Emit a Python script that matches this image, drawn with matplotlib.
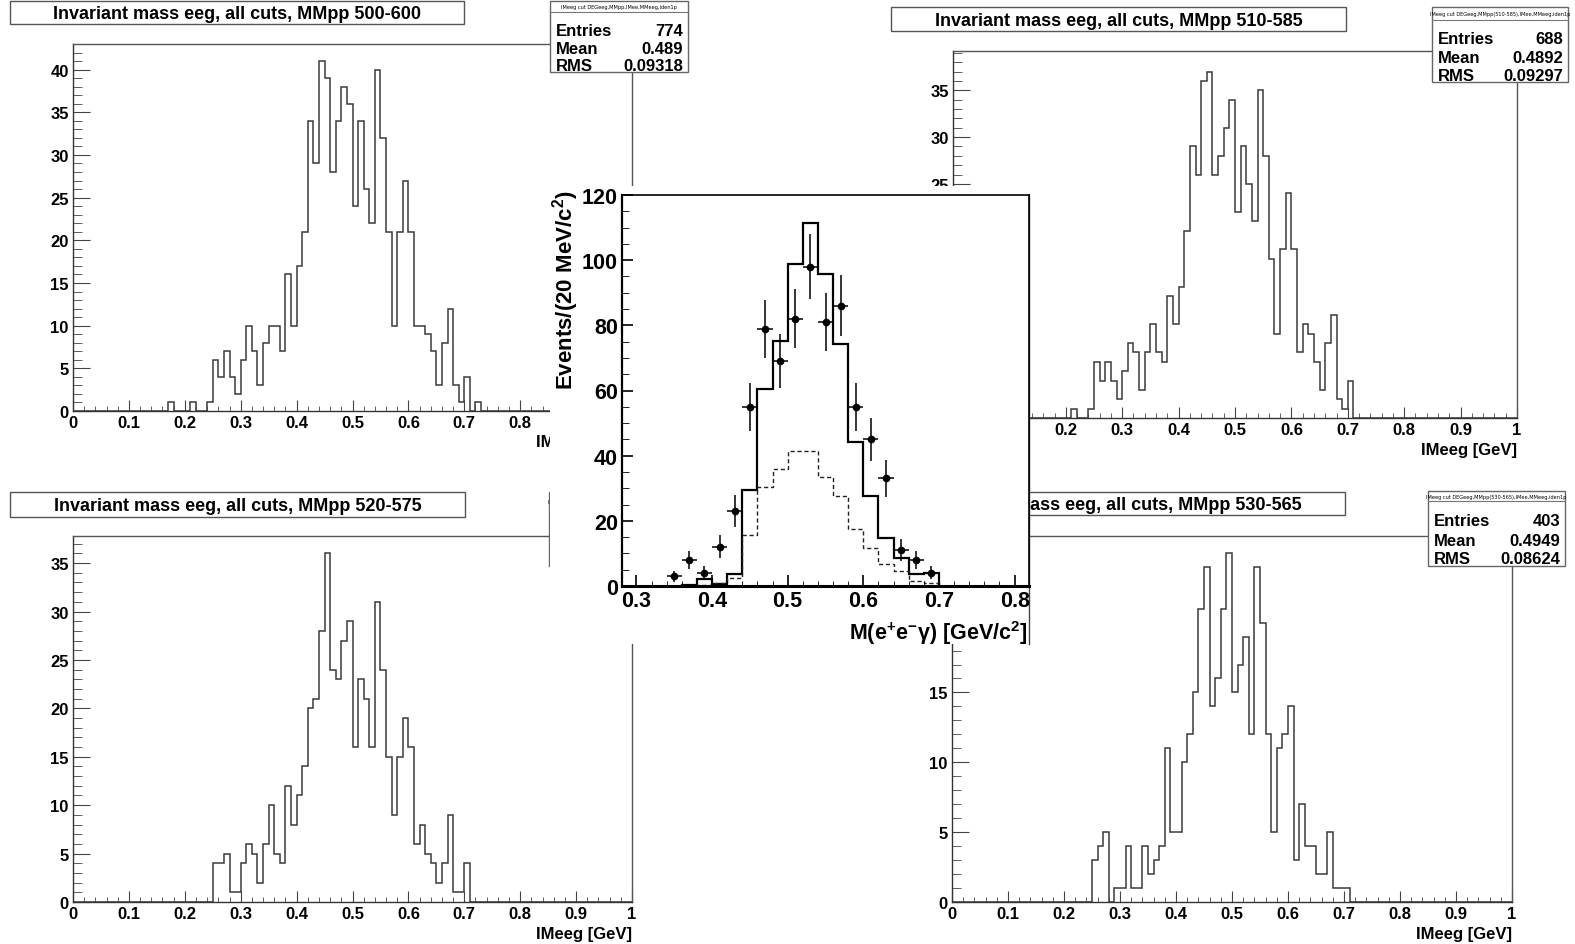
import numpy as np
import matplotlib.pyplot as plt
from matplotlib.patches import Rectangle
from matplotlib.ticker import MultipleLocator

plt.rcParams['font.family'] = ['Liberation Sans', 'DejaVu Sans']
plt.rcParams['font.weight'] = 'bold'
plt.rcParams['mathtext.fontset'] = 'custom'
plt.rcParams['mathtext.rm'] = 'Liberation Sans:bold'
plt.rcParams['mathtext.bf'] = 'Liberation Sans:bold'
plt.rcParams['mathtext.it'] = 'Liberation Sans:bold'
plt.rcParams['mathtext.default'] = 'rm'

W, H = 1575, 945

# IMeeg histograms, 100 bins of 10 MeV from 0 to 1 GeV; counts listed from a first bin on
mass_edges = np.linspace(0, 1, 101)

first_500_600 = 17
counts_500_600 = [1, 0, 0, 0, 1, 0, 0, 1, 6, 4, 7, 4, 2, 6, 10, 7, 3, 8, 10, 10, 7, 16, 10,
                  17, 21, 34, 29, 41, 39, 28, 34, 38, 36, 24, 34, 26, 22, 40, 32, 21, 10,
                  21, 27, 21, 10, 10, 9, 7, 3, 8, 12, 3, 1, 4, 0, 1]
first_510_585 = 21
counts_510_585 = [1, 0, 0, 1, 6, 4, 6, 4, 2, 5, 8, 7, 3, 7, 10, 7, 6, 13, 10, 14, 20, 29,
                  26, 36, 37, 26, 28, 31, 34, 22, 29, 25, 21, 35, 28, 17, 9, 18, 24, 18,
                  7, 10, 9, 6, 3, 8, 11, 2, 1, 4]
first_520_575 = 25
counts_520_575 = [4, 4, 5, 1, 1, 4, 6, 5, 2, 6, 10, 5, 4, 12, 8, 11, 14, 20, 21, 28, 36,
                  24, 23, 27, 29, 16, 23, 21, 16, 31, 24, 15, 9, 15, 19, 16, 6, 8, 5, 4,
                  2, 4, 9, 1, 1, 4]
first_530_565 = 25
counts_530_565 = [3, 4, 5, 0, 1, 1, 4, 1, 1, 4, 2, 3, 4, 11, 5, 5, 10, 12, 15, 21, 24,
                  14, 16, 21, 25, 15, 17, 19, 12, 24, 20, 12, 5, 11, 12, 14, 3, 7, 4, 4,
                  2, 2, 5, 1, 1, 1]

titles = ['Invariant mass eeg, all cuts, MMpp 500-600',
          'Invariant mass eeg, all cuts, MMpp 510-585',
          'Invariant mass eeg, all cuts, MMpp 520-575',
          'Invariant mass eeg, all cuts, MMpp 530-565']
stat_headers = ['IMeeg cut DEGeeg,MMpp,IMee,MMeeg,iden1p',
                'IMeeg cut DEGeeg,MMpp(510-585),IMee,MMeeg,iden1p',
                'IMeeg cut DEGeeg,MMpp(520-575),IMee,MMeeg,iden1p',
                'IMeeg cut DEGeeg,MMpp(530-565),IMee,MMeeg,iden1p']
stat_entries = ['774', '688', None, '403']
stat_mean = ['0.489', '0.4892', None, '0.4949']
stat_rms = ['0.09318', '0.09297', None, '0.08624']

# central plot: 20 MeV bins
center_edges = np.linspace(0.36, 0.70, 18)
mc_total = [0.4, 2.2, 0.7, 3.7, 29.6, 60.6, 75.1, 98.7, 111.4, 95.8, 74.3, 44.1, 27.5,
            14.8, 8.6, 3.7, 4.1]
mc_part = [0.3, 0.3, 0.8, 2.6, 15.7, 30.5, 36.0, 41.3, 41.3, 33.3, 27.7, 17.4, 11.6,
           6.6, 4.6, 1.4, 1.0]
data_mass = [0.35, 0.37, 0.39, 0.41, 0.43, 0.45, 0.47, 0.49, 0.51, 0.53, 0.55, 0.57,
             0.59, 0.61, 0.63, 0.65, 0.67, 0.69]
data_counts = [3, 8, 4, 12, 23, 55, 79, 69, 82, 98, 81, 86, 55, 45, 33, 11, 8, 4]
data_err = [1.7, 2.8, 2.0, 3.5, 4.8, 7.4, 8.9, 8.3, 9.1, 9.9, 9.0, 9.3, 7.4, 6.7, 5.7,
            3.3, 2.8, 2.0]


def place(x0, y0, x1, y1):
    return [x0 / W, 1 - y1 / H, (x1 - x0) / W, (y1 - y0) / H]


def pt(px):
    return px * 72 / 100


fig = plt.figure(figsize=(15.75, 9.45), dpi=100)

# panel layout in pixels: frame, y max, title box, stat box (x0, y0, x1, y1, separator)
frames = [(73, 45, 632, 412), (953, 52, 1517, 419), (73, 537, 632, 903), (952, 537, 1512, 903)]
ymaxes = [43.0, 39.2, 37.8, 26.2]
tboxes = [(10, 2, 464, 25), (891, 8, 1346, 32), (10, 493, 465, 518), (891, 493, 1345, 516)]
sboxes = [(550, 2, 688, 73, 13), (1432, 8, 1568, 83, 21), (549, 493, 688, 567, 512),
          (1428, 492, 1565, 567, 502)]
firsts = [first_500_600, first_510_585, first_520_575, first_530_565]
counts = [counts_500_600, counts_510_585, counts_520_575, counts_530_565]

for fr, ymax, first, vals in zip(frames, ymaxes, firsts, counts):
    h = np.zeros(100)
    h[first:first + len(vals)] = vals
    ax = fig.add_axes(place(*fr))
    ax.stairs(h, mass_edges, color='#3a3a3a', lw=1.1)
    ax.set_xlim(0, 1)
    ax.set_ylim(0, ymax)
    for s in ax.spines.values():
        s.set_color('#555555')
        s.set_linewidth(1.0)
    ax.spines['bottom'].set_color('#333333')
    ax.spines['left'].set_color('#333333')
    ax.xaxis.set_major_locator(MultipleLocator(0.1))
    ax.xaxis.set_minor_locator(MultipleLocator(0.02))
    ax.yaxis.set_major_locator(MultipleLocator(5))
    ax.yaxis.set_minor_locator(MultipleLocator(1))
    ax.xaxis.set_major_formatter(lambda v, p: f'{v:g}')
    ax.yaxis.set_major_formatter(lambda v, p: f'{v:g}')
    ax.tick_params(which='both', direction='in', top=False, right=False,
                   color='#444444', labelsize=12, pad=3)
    ax.tick_params(axis='x', which='major', length=pt(11))
    ax.tick_params(axis='x', which='minor', length=pt(5.5))
    ax.tick_params(axis='y', which='major', length=pt(17))
    ax.tick_params(axis='y', which='minor', length=pt(9))

ov = fig.add_axes([0, 0, 1, 1])
ov.set_zorder(1)
ov.set_xlim(0, W)
ov.set_ylim(H, 0)
ov.axis('off')

for k in range(4):
    x0, y0, x1, y1 = tboxes[k]
    ov.add_patch(Rectangle((x0, y0), x1 - x0, y1 - y0, fc='white', ec='#555555', lw=1.0))
    ov.text((x0 + x1) / 2, (y0 + y1) / 2 + 1, titles[k], fontsize=13, ha='center',
            va='center')
    fx0, fy0, fx1, fy1 = frames[k]
    ov.text(fx1, fy1 + 31, 'IMeeg [GeV]', fontsize=12, ha='right', va='center')
    sx0, sy0, sx1, sy1, sep = sboxes[k]
    ov.add_patch(Rectangle((sx0, sy0), sx1 - sx0, sy1 - sy0, fc='white', ec='#666666',
                           lw=1.0, zorder=3))
    ov.plot([sx0, sx1], [sep, sep], color='#777777', lw=0.8, zorder=4)
    ov.text((sx0 + sx1) / 2, (sy0 + sep) / 2, stat_headers[k], fontsize=3.6,
            family='DejaVu Sans', weight='normal', ha='center', va='center', zorder=4)
    if stat_entries[k] is None:
        continue
    rows = [('Entries', stat_entries[k]), ('Mean', stat_mean[k]), ('RMS', stat_rms[k])]
    for (name, val), f in zip(rows, [0.30, 0.60, 0.89]):
        yc = sep + f * (sy1 - sep)
        ov.text(sx0 + 6, yc, name, fontsize=12, ha='left', va='center', zorder=4)
        ov.text(sx1 - 5, yc, val, fontsize=12, ha='right', va='center', zorder=4)

# white pad of the central plot covering the four panels
ov2 = fig.add_axes([0, 0, 1, 1])
ov2.set_zorder(2)
ov2.set_xlim(0, W)
ov2.set_ylim(H, 0)
ov2.axis('off')
ov2.add_patch(Rectangle((550, 187), 1029 - 550, 645 - 187, fc='white', ec='none'))
ov2.plot([1029, 1029], [196, 645], color='#444444', lw=1.0)
ov2.text(566, 190, 'Events/(20 MeV/c$^{2}$)', fontsize=16, rotation=90, ha='center',
         va='top')
ov2.text(1028, 633, r'M(e$^{+}$e$^{-}\gamma$) [GeV/c$^{2}$]', fontsize=15.5, ha='right',
         va='center')

cx = fig.add_axes(place(622, 196, 1029, 587))
cx.set_zorder(3)
cx.stairs(mc_total, center_edges, color='black', lw=1.6)
cx.stairs(mc_part, center_edges, color='#222222', lw=1.0, ls=(0, (3, 2)))
cx.errorbar(data_mass, data_counts, yerr=data_err, xerr=0.01, fmt='o', color='black',
            ms=4.5, elinewidth=1.1, capsize=0)
cx.set_xlim(0.281, 0.819)
cx.set_ylim(0, 120)
cx.xaxis.set_major_locator(MultipleLocator(0.1))
cx.xaxis.set_minor_locator(MultipleLocator(0.02))
cx.yaxis.set_major_locator(MultipleLocator(20))
cx.yaxis.set_minor_locator(MultipleLocator(5))
cx.xaxis.set_major_formatter(lambda v, p: f'{v:g}')
cx.yaxis.set_major_formatter(lambda v, p: f'{v:g}')
cx.tick_params(which='both', direction='in', top=False, right=False, labelsize=15.5,
               pad=3, color='black')
cx.tick_params(which='major', length=pt(11), width=1.2)
cx.tick_params(axis='x', which='minor', length=pt(5.5))
cx.tick_params(axis='y', which='minor', length=pt(7))
cx.spines['left'].set_linewidth(1.6)
cx.spines['bottom'].set_linewidth(2.2)
cx.spines['top'].set_linewidth(1.2)
cx.spines['right'].set_linewidth(1.2)

fig.savefig('out.png', dpi=100)
